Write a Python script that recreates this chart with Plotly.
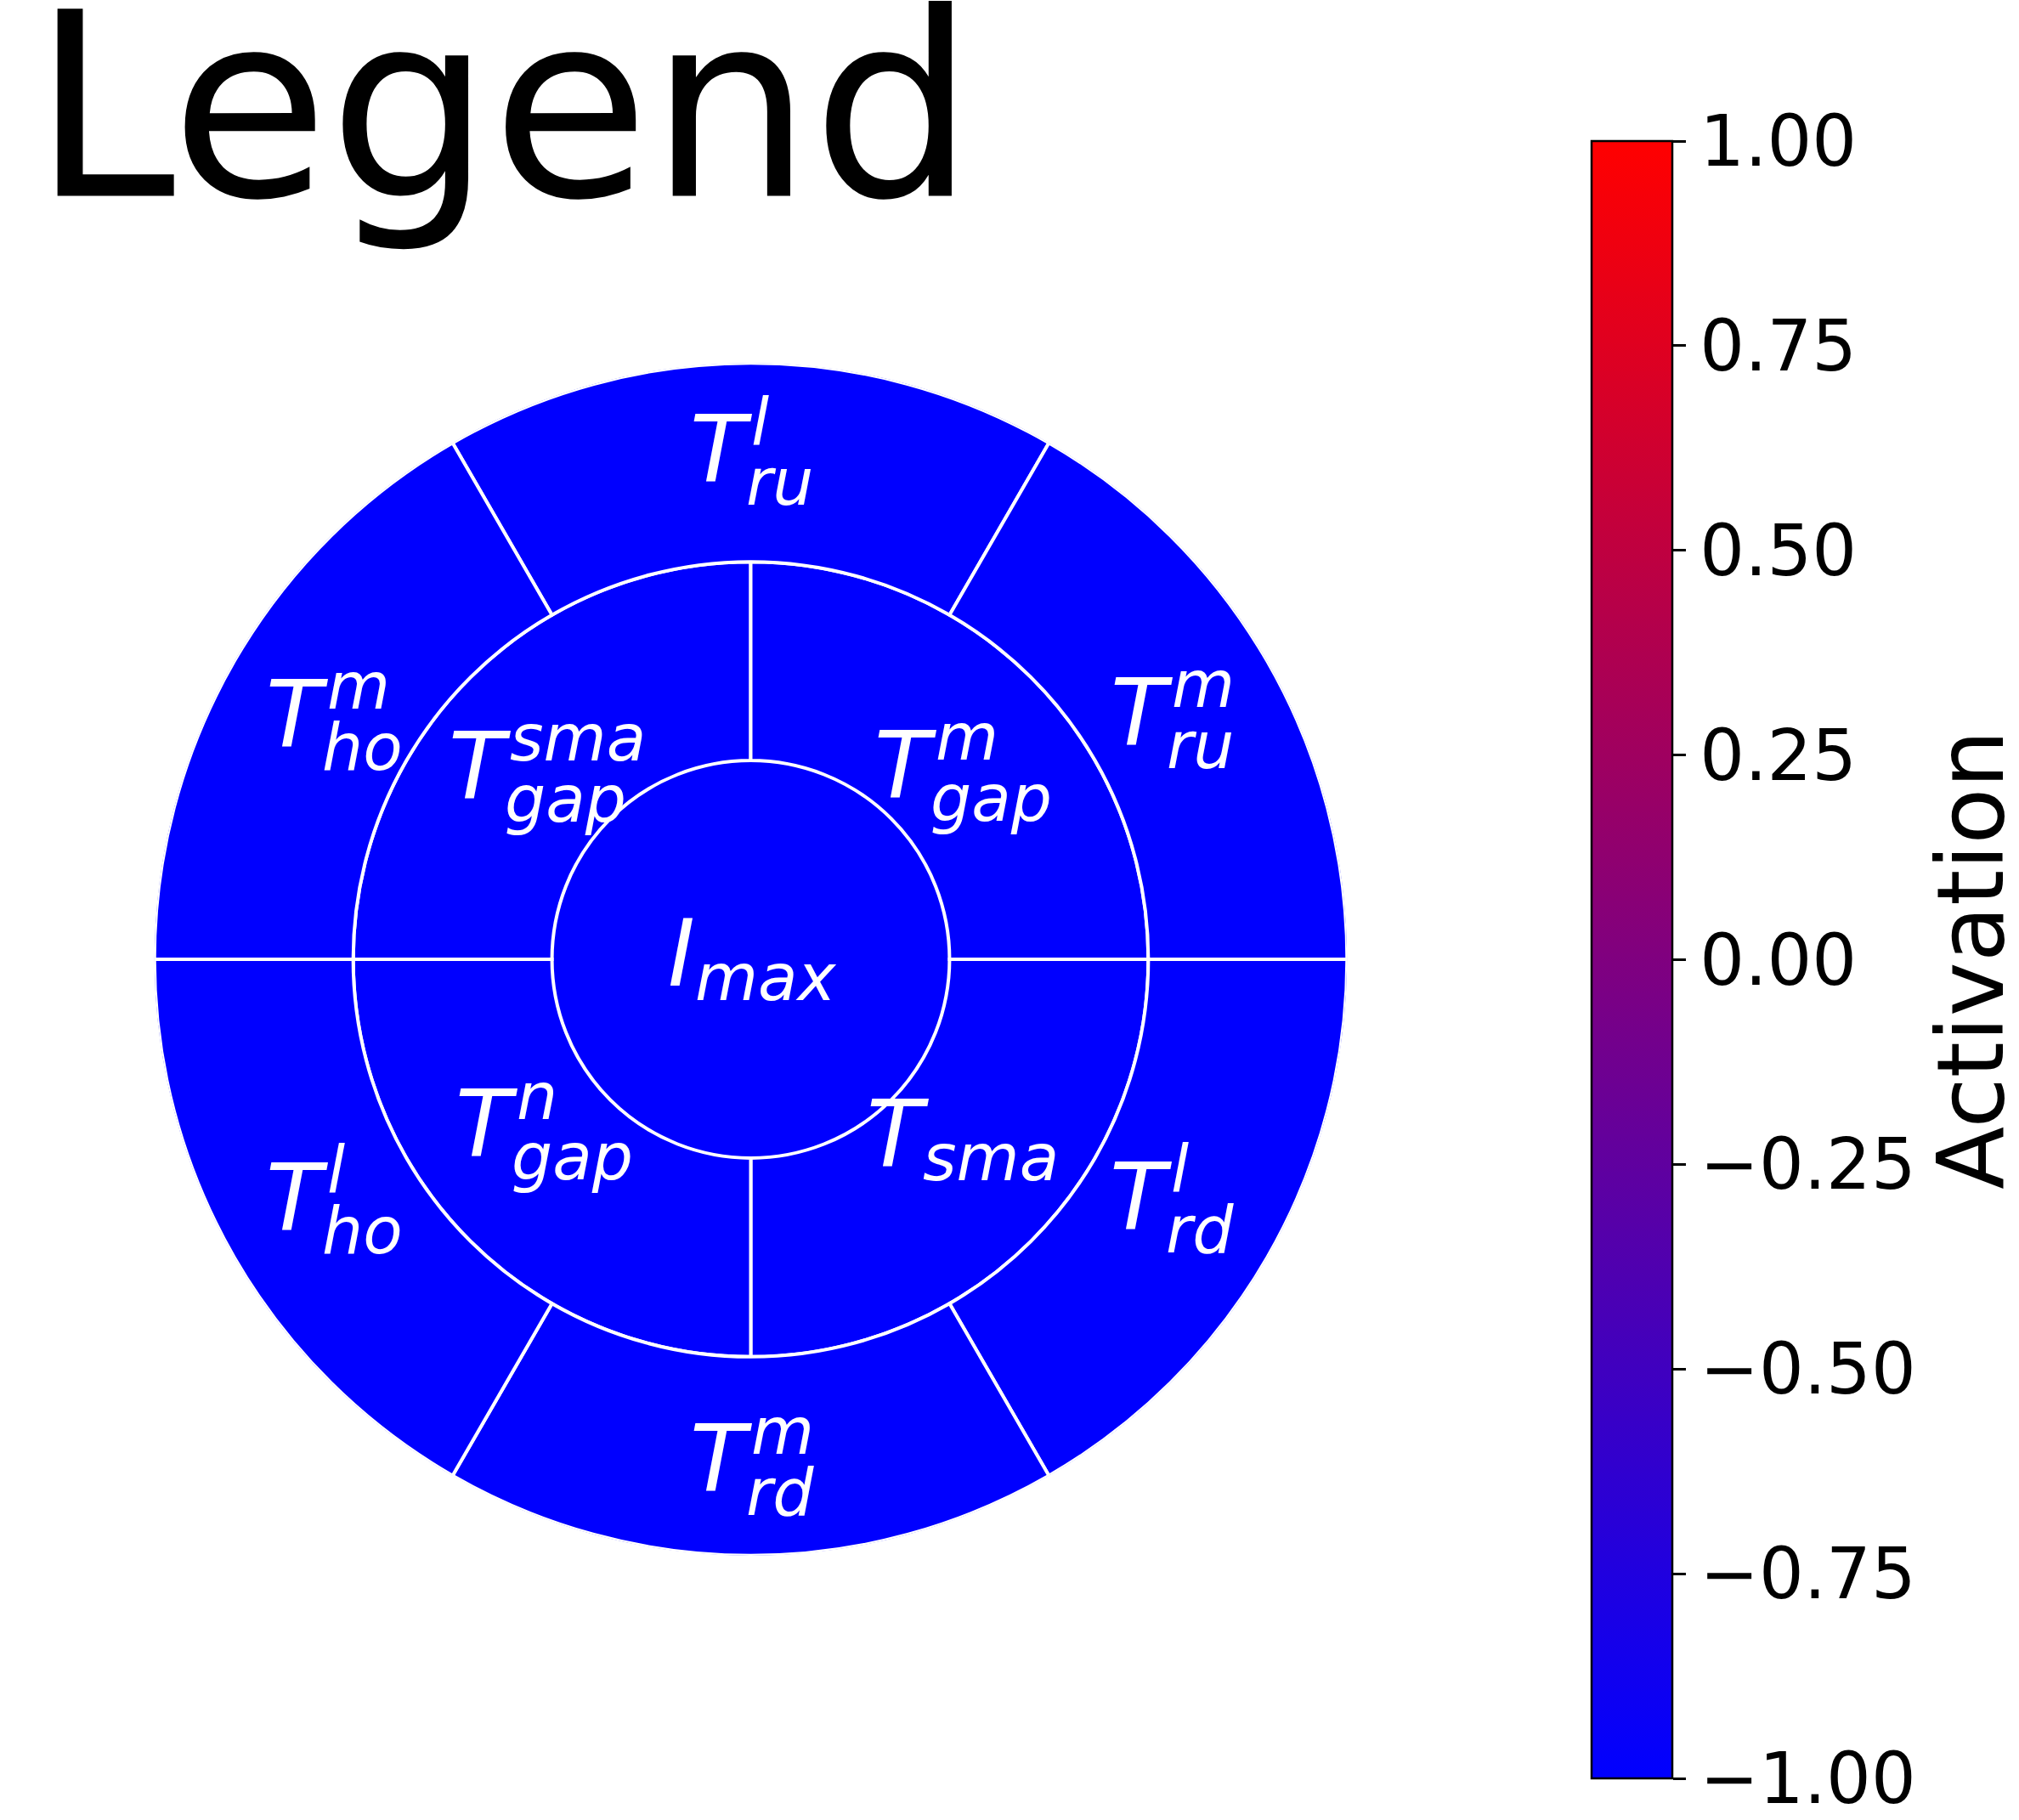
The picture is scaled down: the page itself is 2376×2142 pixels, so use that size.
import plotly.graph_objects as go

# ---------------- data ----------------
segment_names = ["I_max", "T_gap^sma", "T_gap^m", "T_sma", "T_gap^n",
                 "T_ru^l", "T_ru^m", "T_rd^l", "T_rd^m", "T_ho^l", "T_ho^m"]
segment_base = [0, 1, 1, 1, 1, 2, 2, 2, 2, 2, 2]
segment_depth = [1, 1, 1, 1, 1, 1, 1, 1, 1, 1, 1]
segment_theta = [0, 135, 45, 315, 225, 90, 30, 330, 270, 210, 150]
segment_width = [360, 90, 90, 90, 90, 60, 60, 60, 60, 60, 60]
activation = [-1.0, -1.0, -1.0, -1.0, -1.0, -1.0, -1.0, -1.0, -1.0, -1.0, -1.0]

label_main = ["I", "T", "T", "T", "T", "T", "T", "T", "T", "T", "T"]
label_sup = ["", "sma", "m", "", "n", "l", "m", "l", "m", "l", "m"]
label_sub = ["max", "gap", "gap", "sma", "gap", "ru", "ru", "rd", "rd", "ho", "ho"]
label_x = [0.0, -1.039, 1.063, 1.063, -1.044, 0.0, 2.116, 2.111, 0.0, -2.10, -2.10]
label_y = [-0.133, 0.8135, 0.818, -1.037, -0.987, 2.406, 1.083, -1.353, -2.673, -1.358, 1.075]

cbar_tickvals = [-1.0, -0.75, -0.5, -0.25, 0.0, 0.25, 0.5, 0.75, 1.0]
cbar_ticktext = ["\u22121.00", "\u22120.75", "\u22120.50", "\u22120.25", "0.00",
                 "0.25", "0.50", "0.75", "1.00"]
cbar_title = "Activation"
fig_title = "Legend"

# ---------------- style ----------------
W, H = 2376, 2142
FONT = "DejaVu Sans"
CX, CY, R = 883.5, 1129.0, 701.8
RMAX = 3
dom_x = [(CX - R) / W, (CX + R) / W]
dom_y = [1 - (CY + R) / H, 1 - (CY - R) / H]

F_MAIN = 108
F_SCRIPT = 76
K_BASE = 0.346        # baseline offset below box middle, in em
SUP_RAISE = 43.5
SUB_DROP_BOTH = 28
SUB_DROP_ONLY = 17
ADV = {"T": 0.611, "I": 0.295, "l": 0.278, "m": 0.974, "n": 0.634, "s": 0.521,
       "a": 0.613, "g": 0.635, "p": 0.635, "r": 0.411, "u": 0.634, "h": 0.634,
       "o": 0.612, "d": 0.635, "x": 0.592}


def adv(s, size):
    return sum(ADV.get(c, 0.6) for c in s) * size


line_widths = [0 if w == 360 else 4 for w in segment_width]

fig = go.Figure()
fig.add_trace(go.Barpolar(
    r=segment_depth, base=segment_base, theta=segment_theta, width=segment_width,
    text=segment_names, hoverinfo="text",
    marker=dict(
        color=activation, cmin=-1, cmax=1,
        colorscale=[[0, "rgb(0,0,255)"], [1, "rgb(255,0,0)"]],
        line=dict(color="white", width=line_widths),
        showscale=True,
        colorbar=dict(
            x=1873 / W, xanchor="left", xpad=0,
            y=1 - 1129.5 / H, yanchor="middle", ypad=0,
            len=1927, lenmode="pixels", thickness=95, thicknessmode="pixels",
            outlinewidth=2.5, outlinecolor="black",
            ticks="outside", ticklen=15, tickwidth=2.5, tickcolor="black",
            tickvals=cbar_tickvals, ticktext=cbar_ticktext,
            ticklabeloverflow="allow",
            tickfont=dict(family=FONT, size=83, color="black"),
            title=dict(text=cbar_title, side="right",
                       font=dict(family=FONT, size=108, color="black")),
        ),
    ),
))

# invisible anchor trace for the label overlay axes
fig.add_trace(go.Scatter(x=label_x, y=label_y, mode="markers",
                         marker=dict(opacity=0, size=1), hoverinfo="skip",
                         showlegend=False))

annotations = []
for m, sp, sb, x, y in zip(label_main, label_sup, label_sub, label_x, label_y):
    w_main = adv(m, F_MAIN)
    w_scr = max(adv(sp, F_SCRIPT), adv(sb, F_SCRIPT))
    left = -(w_main + w_scr) / 2
    base = dict(xref="x", yref="y", x=x, y=y, showarrow=False, borderpad=0,
                xanchor="left", yanchor="middle")
    annotations.append(dict(base, text=m, xshift=left, yshift=K_BASE * F_MAIN,
                            font=dict(family=FONT, size=F_MAIN, color="white",
                                      style="italic")))
    if sp:
        annotations.append(dict(base, text=sp, xshift=left + w_main + 6,
                                yshift=SUP_RAISE + K_BASE * F_SCRIPT,
                                font=dict(family=FONT, size=F_SCRIPT, color="white",
                                          style="italic")))
    if sb:
        drop = SUB_DROP_BOTH if sp else SUB_DROP_ONLY
        annotations.append(dict(base, text=sb, xshift=left + w_main,
                                yshift=-drop + K_BASE * F_SCRIPT,
                                font=dict(family=FONT, size=F_SCRIPT, color="white",
                                          style="italic")))

fig.update_layout(
    width=W, height=H,
    margin=dict(l=0, r=0, t=0, b=0, pad=0, autoexpand=False),
    paper_bgcolor="white", plot_bgcolor="rgba(0,0,0,0)",
    showlegend=False,
    title=dict(text=fig_title, x=38 / W, xanchor="left", xref="container",
               y=1 - 19 / H, yanchor="top", yref="container",
               font=dict(family=FONT, size=302, color="black")),
    polar=dict(
        domain=dict(x=dom_x, y=dom_y),
        bgcolor="rgba(0,0,0,0)", bargap=0, hole=0,
        radialaxis=dict(range=[0, RMAX], visible=False),
        angularaxis=dict(visible=False, rotation=0, direction="counterclockwise"),
    ),
    xaxis=dict(domain=dom_x, range=[-RMAX, RMAX], visible=False, fixedrange=True),
    yaxis=dict(domain=dom_y, range=[-RMAX, RMAX], visible=False, fixedrange=True),
    annotations=annotations,
)

fig.write_html("out.html")
